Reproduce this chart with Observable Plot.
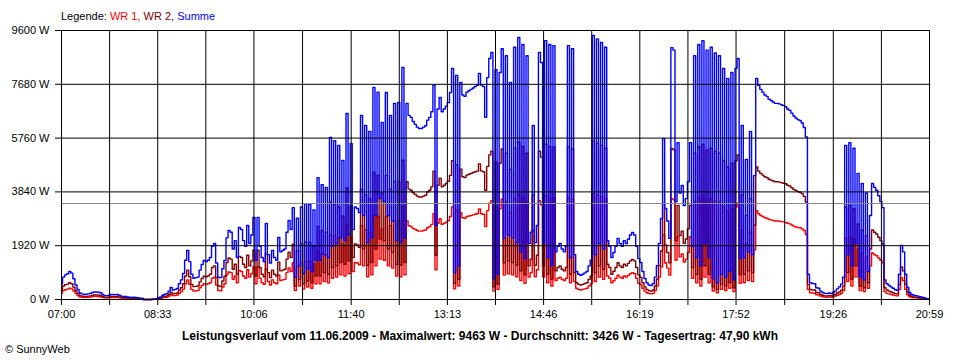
<!DOCTYPE html>
<html><head><meta charset="utf-8">
<script src="https://cdn.jsdelivr.net/npm/d3@7"></script>
<script src="https://cdn.jsdelivr.net/npm/@observablehq/plot@0.6"></script>
<style>
body{margin:0;background:#fff;font-family:"Liberation Sans",Arial,sans-serif;}
#wrap{position:relative;width:960px;height:360px;overflow:hidden;background:#fff}
#chart svg{position:absolute;left:0;top:0}
#legend{position:absolute;left:61px;top:10px;font-size:11px;white-space:nowrap}
#caption{position:absolute;left:0;width:960px;top:329px;text-align:center;font-size:12px;font-weight:bold;white-space:nowrap}
#copy{position:absolute;left:5px;top:343px;font-size:11px;white-space:nowrap}
</style></head>
<body>
<div id="wrap"><div id="chart"></div><div id="legend"></div><div id="caption"></div><div id="copy">© SunnyWeb</div></div>
<script>
// ---- data (W), sampled every 2 minutes from 07:00 ----
const startLabel = "07:00";
const stepMinutes = 2;
const summe = [
550,800,880,920,1000,940,740,520,360,230,
200,180,190,200,220,250,270,270,260,240,
180,140,140,150,180,180,170,180,150,120,
110,110,90,80,70,80,70,60,50,50,
0,0,0,0,10,20,20,60,90,150,
190,210,300,430,340,360,390,560,700,930,
1400,1750,1350,900,760,780,800,1050,1250,1390,
1350,1400,1500,1900,2000,1300,800,780,1100,1390,
2200,2460,2400,1800,2100,1500,2570,2500,2100,1900,
2640,2000,2300,2930,1400,2930,1900,1500,1350,2710,
1600,1300,1750,1500,1400,2210,1700,1750,1800,2400,
2820,2500,3280,800,2900,1200,3300,930,3420,1100,
3400,1000,3200,1400,4350,1400,4100,1600,4000,1500,
5780,1900,5670,2000,5500,2200,4960,2100,6640,2300,
5570,2500,3300,3250,3100,6570,3000,6210,2030,6000,
2200,7570,3000,7400,3600,6320,3500,7390,3000,6570,
2800,7000,2100,7030,2030,8280,2200,7000,6570,6500,
6350,6250,6150,6100,6100,6150,6200,6400,6500,6700,
7640,2640,6800,7210,6700,6800,6900,7030,7390,8250,
960,8000,1200,7750,7300,7250,7400,7450,7500,7550,
7600,7640,8070,7650,7600,6500,7920,8600,8820,750,
8200,900,8100,8950,2180,8700,2300,7750,2200,9000,
2030,9350,1700,9100,1460,8700,2000,2400,6210,2030,
2640,8820,8460,2000,9240,1500,9100,1210,9060,1700,
1900,2000,1800,1700,1900,9060,1500,8950,1600,1000,
900,860,900,950,1000,1200,1400,9420,1600,9300,
2000,9170,1800,9000,2100,1900,1500,1680,1900,2180,
2000,1900,2100,2000,2150,2300,2390,2300,1900,1460,
1320,1000,750,600,520,500,560,800,1210,2000,
2890,5740,3250,2800,2180,8990,8900,3500,5600,3800,
4070,3350,3600,4200,5600,1900,8700,1500,9100,1200,
9240,2000,8900,1500,9000,750,8800,600,8700,900,
8250,800,7890,1000,8100,700,8250,8600,1460,6210,
1500,5000,1700,6000,1600,4420,7890,7640,7500,7400,
7300,7250,7150,7100,7050,7000,7000,6980,6950,6920,
6880,6800,6750,6650,6550,6480,6420,6390,6300,6140,
5800,900,600,570,560,420,400,300,250,220,
210,230,210,250,300,380,450,550,800,5500,
1600,5600,1200,5400,2000,4500,800,4140,700,3800,
1000,3000,4140,4000,3900,3700,3500,3280,700,560,
500,450,400,350,330,900,1930,1700,900,430,
250,180,150,140,120,100,80,60,40,20];
const wr2 = [
330,480,530,550,600,560,440,310,220,140,
120,110,110,120,130,150,160,160,160,140,
110,80,80,90,110,110,100,110,90,70,
70,70,50,50,40,50,40,40,30,30,
0,0,0,0,10,10,10,40,50,90,
110,130,180,260,200,220,230,340,420,560,
840,1050,810,540,460,470,480,630,750,830,
810,840,900,1140,1200,780,480,470,660,830,
1320,1480,1440,1080,1260,900,1540,1500,1260,1140,
1580,1200,1380,1760,840,1760,1140,900,810,1630,
960,780,1050,900,840,1330,1020,1050,1080,1440,
1690,1500,1970,480,1740,720,1980,560,2050,660,
2040,600,1920,840,2610,840,2460,960,2400,900,
3470,1140,3400,1200,3300,1320,2980,1260,3980,1380,
3340,1500,1980,1950,1860,3940,1800,3730,1220,3600,
1320,4540,1800,4440,2160,3790,2100,4430,1800,3940,
1680,4200,1260,4220,1220,4970,1320,4200,3940,3900,
3810,3750,3690,3660,3660,3690,3720,3840,3900,4020,
4580,1580,4080,4330,4020,4080,4140,4220,4430,4950,
580,4800,720,4650,4380,4350,4440,4470,4500,4530,
4560,4580,4840,4590,4560,3900,4750,5160,5290,450,
4920,540,4860,5370,1310,5220,1380,4650,1320,5400,
1220,5610,1020,5460,880,5220,1200,1440,3730,1220,
1580,5290,5080,1200,5540,900,5460,730,5440,1020,
1140,1200,1080,1020,1140,5440,900,5370,960,600,
540,520,540,570,600,720,840,5650,960,5580,
1200,5500,1080,5400,1260,1140,900,1010,1140,1310,
1200,1140,1260,1200,1290,1380,1430,1380,1140,880,
790,600,450,360,310,300,340,480,730,1200,
1730,3440,1950,1680,1310,5390,5340,2100,3360,2280,
2440,2010,2160,2520,3360,1140,5220,900,5460,720,
5540,1200,5340,900,5400,450,5280,360,5220,540,
4950,480,4730,600,4860,420,4950,5160,880,3730,
900,3000,1020,3600,960,2650,4730,4580,4500,4440,
4380,4350,4290,4260,4230,4200,4200,4190,4170,4150,
4130,4080,4050,3990,3930,3890,3850,3830,3780,3680,
3480,540,360,340,340,250,240,180,150,130,
130,140,130,150,180,230,270,330,480,3300,
960,3360,720,3240,1200,2700,480,2480,420,2280,
600,1800,2480,2400,2340,2220,2100,1970,420,340,
300,270,240,210,200,540,1160,1020,540,260,
150,110,90,80,70,60,50,40,20,10];
const wr1 = [
220,320,350,370,400,380,300,210,140,90,
80,70,80,80,90,100,110,110,100,100,
70,60,60,60,70,70,70,70,60,50,
40,40,40,30,30,30,30,20,20,20,
0,0,0,0,0,10,10,20,40,60,
80,80,120,170,140,140,160,220,280,370,
560,700,540,360,300,310,320,420,500,560,
540,560,600,760,800,520,320,310,440,560,
880,980,960,720,840,600,1030,1000,840,760,
1060,800,920,1170,560,1170,760,600,540,1080,
640,520,700,600,560,880,680,700,720,960,
1130,1000,1310,320,1160,480,1320,370,1370,440,
1360,400,1280,560,1740,560,1640,640,1600,600,
2310,760,2270,800,2200,880,1980,840,2660,920,
2230,1000,1320,1300,1240,2630,1200,2480,810,2400,
880,3030,1200,2960,1440,2530,1400,2960,1200,2630,
1120,2800,840,2810,810,3310,880,2800,2630,2600,
2540,2500,2460,2440,2440,2460,2480,2560,2600,2680,
3060,1060,2720,2880,2680,2720,2760,2810,2960,3300,
380,3200,480,3100,2920,2900,2960,2980,3000,3020,
3040,3060,3230,3060,3040,2600,3170,3440,3530,300,
3280,360,3240,3580,870,3480,920,3100,880,3600,
810,3740,680,3640,580,3480,800,960,2480,810,
1060,3530,3380,800,3700,600,3640,480,3620,680,
760,800,720,680,760,3620,600,3580,640,400,
360,340,360,380,400,480,560,3770,640,3720,
800,3670,720,3600,840,760,600,670,760,870,
800,760,840,800,860,920,960,920,760,580,
530,400,300,240,210,200,220,320,480,800,
1160,2300,1300,1120,870,3600,3560,1400,2240,1520,
1630,1340,1440,1680,2240,760,3480,600,3640,480,
3700,800,3560,600,3600,300,3520,240,3480,360,
3300,320,3160,400,3240,280,3300,3440,580,2480,
600,2000,680,2400,640,1770,3160,3060,3000,2960,
2920,2900,2860,2840,2820,2800,2800,2790,2780,2770,
2750,2720,2700,2660,2620,2590,2570,2560,2520,2460,
2320,360,240,230,220,170,160,120,100,90,
80,90,80,100,120,150,180,220,320,2200,
640,2240,480,2160,800,1800,320,1660,280,1520,
400,1200,1660,1600,1560,1480,1400,1310,280,220,
200,180,160,140,130,360,770,680,360,170,
100,70,60,60,50,40,30,20,20,10];

const xTickLabels = ["07:00","08:33","10:06","11:40","13:13","14:46","16:19","17:52","19:26","20:59"];
const yTicks = [0,1920,3840,5760,7680,9600];
const seriesNames = ["WR 1","WR 2","Summe"];
const seriesColors = ["#ff0000","#800000","#0000ff"];
const dateLabel = "11.06.2009";
const maxValue = 9463;
const averageValue = 3426;
const dailyYield = "47,90";

// ---- helpers ----
const toMin = s => { const [h,m] = s.split(":").map(Number); return h*60+m; };
const t0 = toMin(startLabel);
const labelPos = xTickLabels.map(s => toMin(s) - t0);
const gridX = [];
labelPos.forEach((p,i) => { gridX.push(p); if (i < labelPos.length-1) gridX.push((p + labelPos[i+1]) / 2); });
const labelFor = d => { const k = labelPos.indexOf(d); return k >= 0 ? xTickLabels[k] : ""; };
const rows = arr => arr.map((v,i) => ({t: i*stepMinutes, v}));
const lineOpts = c => ({x: "t", y: "v", stroke: c, strokeWidth: 1.4, curve: "step"});

const chart = Plot.plot({
  width: 960, height: 360,
  marginTop: 30, marginBottom: 61, marginLeft: 61, marginRight: 31,
  style: {fontFamily: "'Liberation Sans', Arial, sans-serif", fontSize: "11px", color: "#000", background: "transparent"},
  x: {domain: [labelPos[0], labelPos[labelPos.length-1]], label: null},
  y: {domain: [yTicks[0], yTicks[yTicks.length-1]], label: null},
  marks: [
    Plot.line(rows(wr1), lineOpts(seriesColors[0])),
    Plot.line(rows(wr2), lineOpts(seriesColors[1])),
    Plot.line(rows(summe), lineOpts(seriesColors[2])),
    Plot.ruleY([averageValue], {stroke: "#8c8c8c", strokeWidth: 1}),
    Plot.ruleY(yTicks, {stroke: "#000", strokeWidth: 1}),
    Plot.ruleX(gridX, {stroke: "#000", strokeWidth: 1}),
    Plot.axisY(yTicks, {label: null, tickSize: 6, tickPadding: 6, tickFormat: d => d + " W", stroke: "#000", strokeOpacity: 1}),
    Plot.axisX(gridX, {label: null, tickSize: 6, tickPadding: 5, tickFormat: labelFor, stroke: "#000", strokeOpacity: 1})
  ]
});
document.getElementById("chart").appendChild(chart);

document.getElementById("legend").innerHTML = "Legende: " + seriesNames.map((n,i) =>
  `<span style="color:${seriesColors[i]}">${n}${i < seriesNames.length-1 ? ", " : ""}</span>`).join("");
document.getElementById("caption").textContent =
  `Leistungsverlauf vom ${dateLabel} - Maximalwert: ${maxValue} W - Durchschnitt: ${averageValue} W - Tagesertrag: ${dailyYield} kWh`;
</script>
</body></html>
